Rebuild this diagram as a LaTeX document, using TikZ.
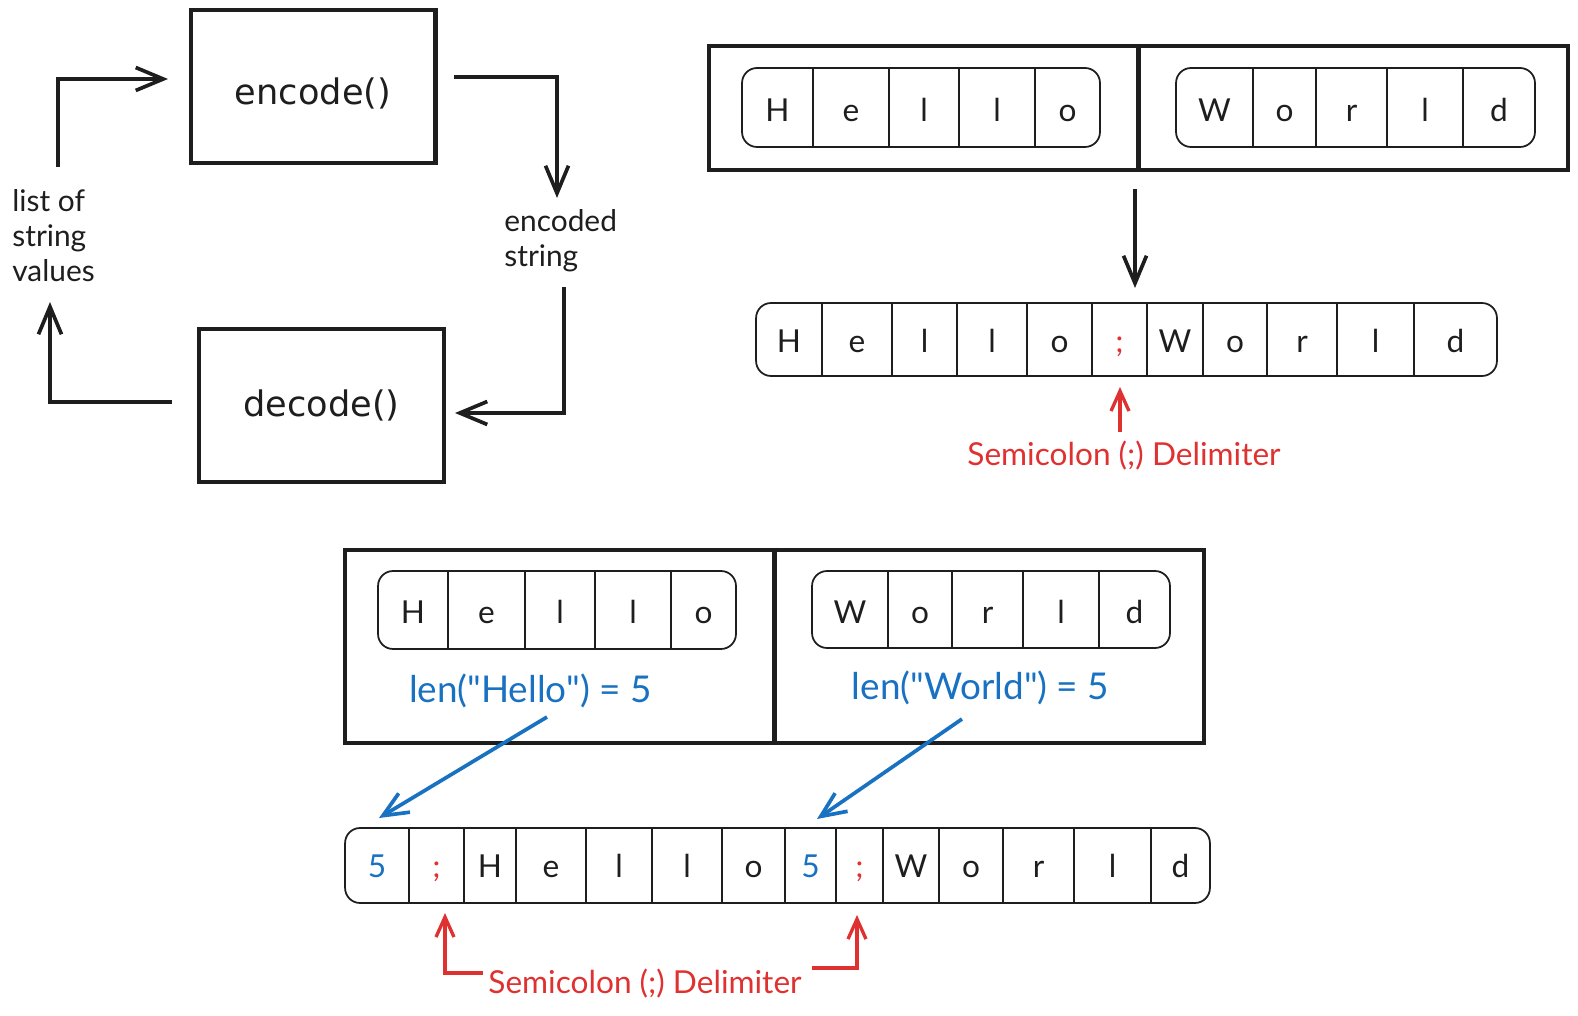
\documentclass[tikz,border=0pt]{standalone}
\usepackage{fontspec}
\setmainfont{Lato}
\newfontfamily\codefont{DejaVu Sans}
\usetikzlibrary{arrows.meta}
\definecolor{ink}{HTML}{1E1E1E}
\definecolor{delimred}{HTML}{E03131}
\definecolor{lenblue}{HTML}{1971C2}
\tikzset{
  box/.style={draw=ink, line width=2.3pt, minimum width=4.9cm, minimum height=3.05cm,
    font=\codefont\fontsize{20}{24}\selectfont, text=ink},
  frame/.style={draw=ink, line width=2.6pt},
  pill/.style={draw=ink, line width=1pt, rounded corners=0.3cm},
  cell/.style={draw=ink, line width=0.6pt},
  letter/.style={font=\fontsize{18}{22}\selectfont, text=ink, text height=14pt, text depth=0pt},
  note/.style={font=\fontsize{17}{20}\selectfont, text=ink, align=left, inner sep=0pt, anchor=base west},
  redlabel/.style={font=\fontsize{18}{22}\selectfont, text=delimred, inner sep=0pt, anchor=base},
  bluelabel/.style={font=\fontsize{21}{25}\selectfont, text=lenblue, inner sep=0pt, anchor=base},
  flow/.style={draw=ink, line width=2.1pt, -{Straight Barb[length=5.5mm,width=4.6mm]}},
  redarrow/.style={draw=delimred, line width=1.9pt, -{Straight Barb[length=4mm,width=3.6mm]}},
  bluearrow/.style={draw=lenblue, line width=2.1pt, -{Straight Barb[length=5mm,width=4.4mm]}}
}
\begin{document}
\begin{tikzpicture}[x=0.02cm, y=-0.02cm]
  \useasboundingbox (0,0) rectangle (1578,1016);
  % encode / decode cycle
  \node[box, text height=20pt, text depth=0pt] at (313,86.5) (enc) {encode()};
  \node[box] at (321.5,405.5) (dec) {decode()};
  \node[note] at (12,282) (lst) {list of\\string\\values};
  \node[note] at (504,267) (estr) {encoded\\string};
  \coordinate (c1) at (58,167);   \coordinate (c2) at (168,79);
  \coordinate (c3) at (454,77);   \coordinate (c4) at (557,198);
  \coordinate (c5) at (564,287);  \coordinate (c6) at (455,413);
  \coordinate (c7) at (172,402);  \coordinate (c8) at (50,302);
  \draw[flow] (c1) |- (c2);
  \draw[flow] (c3) -| (c4);
  \draw[flow] (c5) |- (c6);
  \draw[flow] (c7) -| (c8);

  % top right: plain join with ;
  \node[frame, minimum width=17.18cm, minimum height=2.48cm] at (1138.5,108) (topframe) {};
  \draw[frame] (topframe.north) -- (topframe.south);
  \node[pill, minimum width=7.16cm, minimum height=1.58cm] at (921,107.5) (helloA) {};
  \node[pill, minimum width=7.18cm, minimum height=1.58cm] at (1355.5,107.5) (worldA) {};
  \draw[cell] (813,68) -- ++(0,79) (889,68) -- ++(0,79) (959,68) -- ++(0,79) (1035,68) -- ++(0,79);
  \draw[cell] (1253,68) -- ++(0,79) (1316,68) -- ++(0,79) (1387,68) -- ++(0,79) (1463,68) -- ++(0,79);
  \node[letter] at (777.5,109) (hA1) {H};  \node[letter] at (851,109) (hA2) {e};
  \node[letter] at (924,109) (hA3) {l};    \node[letter] at (997,109) (hA4) {l};
  \node[letter] at (1067.5,109) (hA5) {o};
  \node[letter] at (1214.5,109) (wA1) {W}; \node[letter] at (1284.5,109) (wA2) {o};
  \node[letter] at (1351.5,109) (wA3) {r}; \node[letter] at (1425,109) (wA4) {l};
  \node[letter] at (1499,109) (wA5) {d};

  \coordinate (d1) at (1135,189); \coordinate (d2) at (1135,288);
  \draw[flow] (d1) -- (d2);

  \node[pill, minimum width=14.82cm, minimum height=1.46cm] at (1126.5,339.5) (joinA) {};
  \draw[cell] (822,303) -- ++(0,73) (892,303) -- ++(0,73) (957,303) -- ++(0,73) (1027,303) -- ++(0,73)
    (1092,303) -- ++(0,73) (1147,303) -- ++(0,73) (1203,303) -- ++(0,73) (1267,303) -- ++(0,73)
    (1337,303) -- ++(0,73) (1414,303) -- ++(0,73);
  \node[letter] at (789,340) (jA1) {H};    \node[letter] at (857,340) (jA2) {e};
  \node[letter] at (924.5,340) (jA3) {l};  \node[letter] at (992,340) (jA4) {l};
  \node[letter] at (1059.5,340) (jA5) {o};
  \node[letter, text=delimred] at (1119.5,340) (jA6) {;};
  \node[letter] at (1175,340) (jA7) {W};   \node[letter] at (1235,340) (jA8) {o};
  \node[letter] at (1302,340) (jA9) {r};   \node[letter] at (1375.5,340) (jA10) {l};
  \node[letter] at (1455.5,340) (jA11) {d};

  \node[redlabel] at (1124,465) (delimA) {Semicolon (;) Delimiter};
  \coordinate (r1) at (1120,432); \coordinate (r2) at (1120,387);
  \draw[redarrow] (r1) -- (r2);

  % bottom: length prefix + ;
  \node[frame, minimum width=17.18cm, minimum height=3.86cm] at (774.5,646.5) (botframe) {};
  \draw[frame] (botframe.north) -- (botframe.south);
  \node[pill, minimum width=7.16cm, minimum height=1.56cm] at (557,610) (helloB) {};
  \node[pill, minimum width=7.16cm, minimum height=1.54cm] at (991,609.5) (worldB) {};
  \draw[cell] (448,571) -- ++(0,78) (525,571) -- ++(0,78) (595,571) -- ++(0,78) (671,571) -- ++(0,78);
  \draw[cell] (888,571) -- ++(0,77) (952,571) -- ++(0,77) (1023,571) -- ++(0,77) (1099,571) -- ++(0,77);
  \node[letter] at (413,611) (hB1) {H};      \node[letter] at (486.5,611) (hB2) {e};
  \node[letter] at (560,611) (hB3) {l};      \node[letter] at (633,611) (hB4) {l};
  \node[letter] at (703.5,611) (hB5) {o};
  \node[letter] at (850,611) (wB1) {W};    \node[letter] at (920,611) (wB2) {o};
  \node[letter] at (987.5,611) (wB3) {r};  \node[letter] at (1061,611) (wB4) {l};
  \node[letter] at (1134.5,611) (wB5) {d};
  \node[bluelabel] at (530.5,702) (lenH) {len(\textquotedbl Hello\textquotedbl) = 5};
  \node[bluelabel] at (980.5,699) (lenW) {len(\textquotedbl World\textquotedbl) = 5};

  \coordinate (b1) at (547,717); \coordinate (b2) at (379,818);
  \coordinate (b3) at (962,719); \coordinate (b4) at (817,819);
  \draw[bluearrow] (b1) -- (b2);
  \draw[bluearrow] (b3) -- (b4);

  \node[pill, minimum width=17.3cm, minimum height=1.5cm] at (777.5,865.5) (joinB) {};
  \draw[cell] (409,828) -- ++(0,75) (464,828) -- ++(0,75) (516,828) -- ++(0,75) (586,828) -- ++(0,75)
    (652,828) -- ++(0,75) (722,828) -- ++(0,75) (785,828) -- ++(0,75) (836,828) -- ++(0,75)
    (883,828) -- ++(0,75) (939,828) -- ++(0,75) (1003,828) -- ++(0,75) (1074,828) -- ++(0,75)
    (1151,828) -- ++(0,75);
  \node[letter, text=lenblue] at (377,865.5) (jB1) {5};
  \node[letter, text=delimred] at (436.5,865.5) (jB2) {;};
  \node[letter] at (490,865.5) (jB3) {H};    \node[letter] at (551,865.5) (jB4) {e};
  \node[letter] at (619,865.5) (jB5) {l};    \node[letter] at (687,865.5) (jB6) {l};
  \node[letter] at (753.5,865.5) (jB7) {o};
  \node[letter, text=lenblue] at (810.5,865.5) (jB8) {5};
  \node[letter, text=delimred] at (859.5,865.5) (jB9) {;};
  \node[letter] at (911,865.5) (jB10) {W};   \node[letter] at (971,865.5) (jB11) {o};
  \node[letter] at (1038.5,865.5) (jB12) {r}; \node[letter] at (1112.5,865.5) (jB13) {l};
  \node[letter] at (1180.5,865.5) (jB14) {d};

  \node[redlabel] at (645,993) (delimB) {Semicolon (;) Delimiter};
  \coordinate (r3) at (483,973); \coordinate (r4) at (445,913);
  \coordinate (r5) at (812,968); \coordinate (r6) at (857,915);
  \draw[redarrow] (r3) -| (r4);
  \draw[redarrow] (r5) -| (r6);
\end{tikzpicture}
\end{document}
